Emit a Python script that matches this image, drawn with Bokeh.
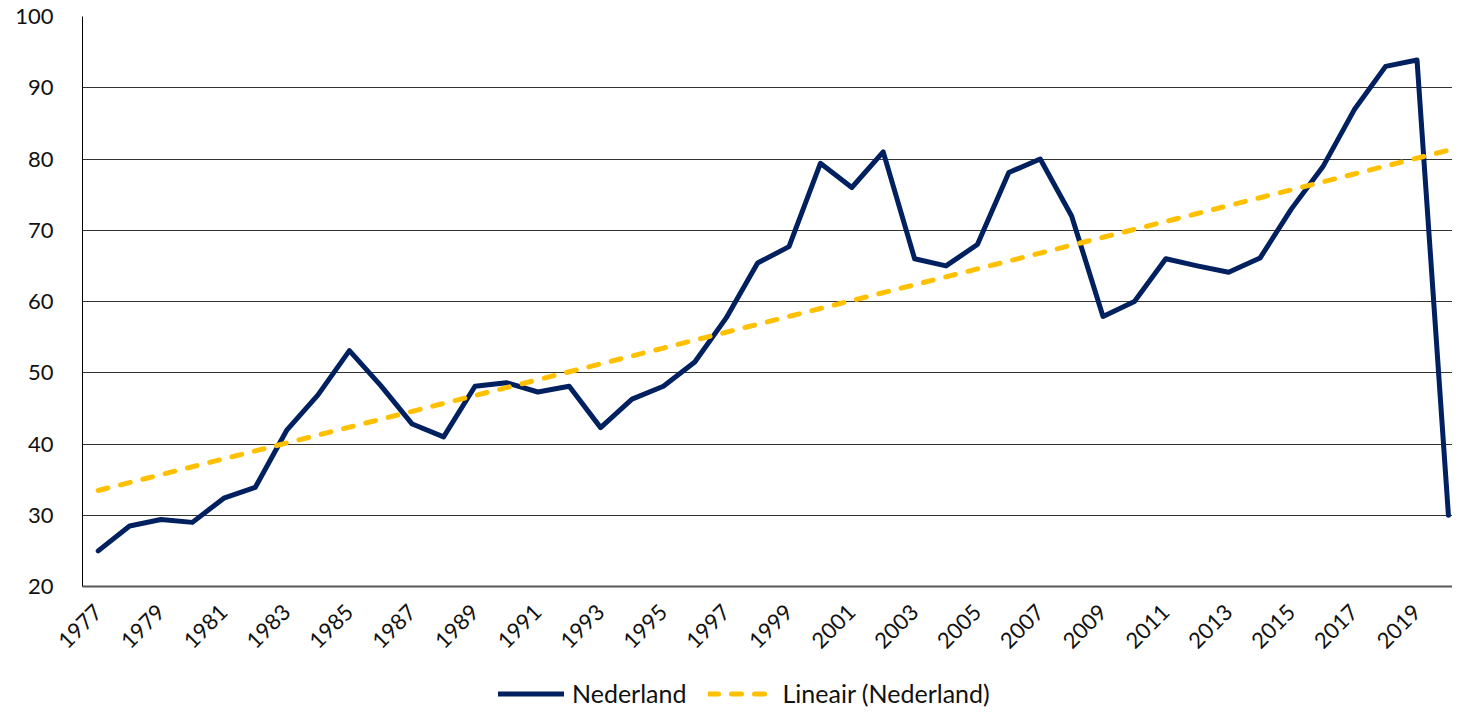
import numpy as np
from bokeh.plotting import figure
from bokeh.models import FixedTicker, Legend, LegendItem, Range1d, ColumnDataSource
from bokeh.layouts import column
from bokeh.embed import file_html
from bokeh.resources import INLINE
from math import pi

years = list(range(1977, 2021))
nederland = [25.0, 28.5, 29.4, 29.0, 32.4, 33.9, 41.9, 46.9, 53.1, 48.2,
             42.8, 41.0, 48.1, 48.6, 47.3, 48.1, 42.3, 46.3, 48.1, 51.5,
             57.7, 65.4, 67.7, 79.4, 76.0, 81.0, 66.0, 65.0, 68.0, 78.1,
             80.0, 72.0, 57.9, 60.0, 66.0, 65.0, 64.1, 66.1, 73.0, 78.9,
             86.9, 93.0, 93.9, 30.0]
y_ticks = [20, 30, 40, 50, 60, 70, 80, 90, 100]
x_tick_years = list(range(1977, 2020, 2))
x_tick_labels = [str(y) for y in x_tick_years]
series_names = ["Nederland", "Lineair (Nederland)"]

# Excel-style linear trend line of the series
slope, intercept = np.polyfit(years, nederland, 1)
trend = [slope * y + intercept for y in years]

FONT = "Lato"
NAVY = "#002060"
GOLD = "#FFC000"
TXT = "#111111"

p = figure(width=1452, height=660, output_backend="svg", toolbar_location=None,
           x_range=Range1d(1976.5, 2020.13), y_range=Range1d(20, 100),
           min_border_left=82, min_border_right=0, min_border_top=16,
           min_border_bottom=74)
p.outline_line_color = None

src = ColumnDataSource(dict(x=years, y=nederland, t=trend))
p.line("x", "y", source=src, line_color=NAVY, line_width=5,
       line_join="round", line_cap="round")
p.line("x", "t", source=src, line_color=GOLD, line_width=5,
       line_dash="10 13", line_cap="round")

p.yaxis.ticker = FixedTicker(ticks=y_ticks)
p.xaxis.ticker = FixedTicker(ticks=x_tick_years)
p.xaxis.major_label_overrides = {t: l for t, l in zip(x_tick_years, x_tick_labels)}
for ax in (p.xaxis[0], p.yaxis[0]):
    ax.major_tick_in = 0
    ax.major_tick_out = 0
    ax.minor_tick_in = 0
    ax.minor_tick_out = 0
    ax.major_label_text_font = FONT
    ax.major_label_text_font_size = "22px"
    ax.major_label_text_color = TXT
p.yaxis.axis_line_color = "#000000"
p.yaxis.axis_line_width = 1
p.yaxis.major_label_standoff = 29
p.xaxis.axis_line_color = "#595959"
p.xaxis.axis_line_width = 2
p.xaxis.major_label_orientation = pi / 4
p.xaxis.major_label_standoff = 22

p.xgrid.grid_line_color = None
p.ygrid.ticker = FixedTicker(ticks=y_ticks)
p.ygrid.grid_line_color = "#333333"
p.ygrid.grid_line_width = 1

# legend strip below the chart (series drawn out of view; only the legend shows)
q = figure(width=1452, height=48, output_backend="svg", toolbar_location=None,
           x_range=Range1d(0, 1), y_range=Range1d(0, 1), min_border=0)
q.axis.visible = False
q.grid.grid_line_color = None
q.outline_line_color = None
l1 = q.line("x", "y", source=src, line_color=NAVY, line_width=5, line_cap="round")
l2 = q.line("x", "t", source=src, line_color=GOLD, line_width=5,
            line_dash="10 13", line_cap="round")
legend = Legend(items=[LegendItem(label=series_names[0], renderers=[l1]),
                       LegendItem(label=series_names[1], renderers=[l2])],
                orientation="horizontal", location=(416, 0))
legend.label_text_font = FONT
legend.label_text_font_size = "25px"
legend.label_text_color = TXT
legend.label_height = 25
legend.glyph_width = 66
legend.glyph_height = 25
legend.label_standoff = 8
legend.spacing = 22
legend.padding = 0
legend.margin = 0
legend.border_line_color = None
legend.background_fill_alpha = 0
q.add_layout(legend, "center")

open("out.html", "w").write(file_html(column(p, q, spacing=0), INLINE))
